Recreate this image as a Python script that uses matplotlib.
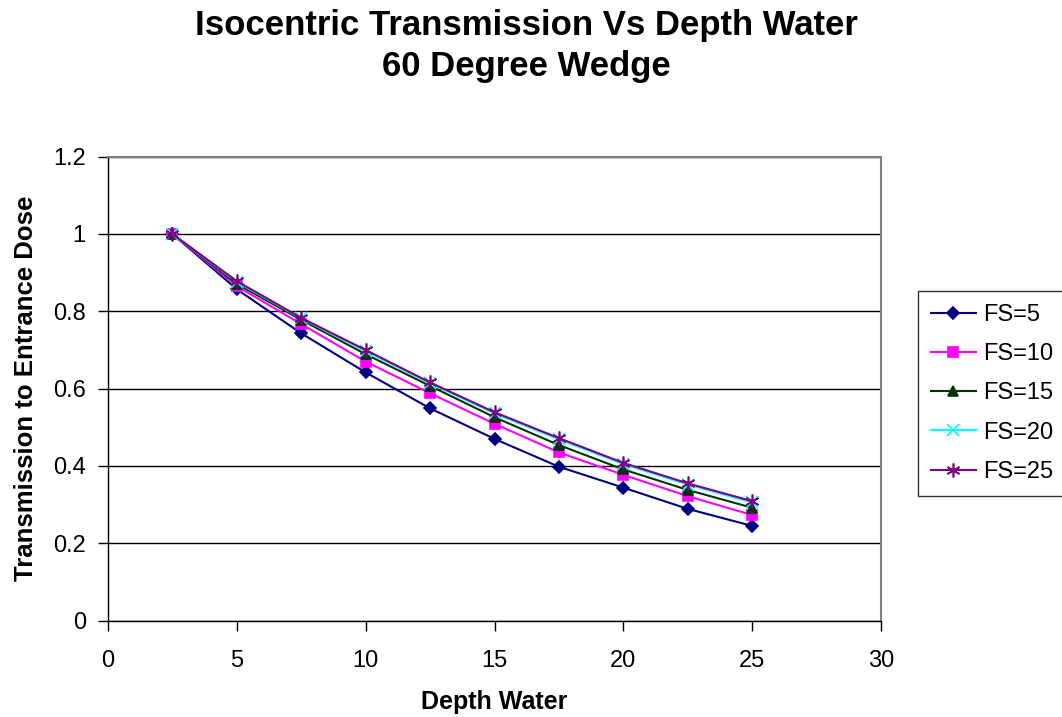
import matplotlib
matplotlib.use("Agg")
import matplotlib.pyplot as plt
from matplotlib.ticker import FuncFormatter

depth = [2.5, 5, 7.5, 10, 12.5, 15, 17.5, 20, 22.5, 25]
fs5 = [1.0, 0.857, 0.743, 0.642, 0.549, 0.470, 0.398, 0.344, 0.289, 0.245]
fs10 = [1.0, 0.865, 0.767, 0.670, 0.588, 0.509, 0.435, 0.377, 0.322, 0.273]
fs15 = [1.0, 0.871, 0.778, 0.689, 0.607, 0.526, 0.454, 0.391, 0.338, 0.292]
fs20 = [1.0, 0.876, 0.782, 0.697, 0.614, 0.536, 0.469, 0.405, 0.352, 0.306]
fs25 = [1.0, 0.878, 0.783, 0.700, 0.616, 0.539, 0.472, 0.408, 0.355, 0.309]
labels = ["FS=5", "FS=10", "FS=15", "FS=20", "FS=25"]

plt.rcParams['font.family'] = ['Liberation Sans', 'DejaVu Sans']

fig = plt.figure(figsize=(10.62, 7.17), dpi=100)
ax = fig.add_axes([0.1017, 0.1344, 0.7279, 0.7815 - 0.1344])

series = [fs5, fs10, fs15, fs20, fs25]
colors = ["#000080", "#FF00FF", "#003300", "#00FFFF", "#800080"]
markers = ["D", "s", "^", "x", (6, 2, 0)]
msizes = [6.5, 7, 7.5, 8, 10]
for ys, c, m, ms, lab in zip(series, colors, markers, msizes, labels):
    ax.plot(depth, ys, color=c, marker=m, markersize=ms, linewidth=1.5,
            markeredgecolor=c, markerfacecolor=c, markeredgewidth=1.2, label=lab, zorder=3)

ax.set_xlim(0, 30)
ax.set_ylim(0, 1.2)
ax.set_xticks([0, 5, 10, 15, 20, 25, 30])
ax.set_yticks([0, 0.2, 0.4, 0.6, 0.8, 1.0, 1.2])
ax.yaxis.set_major_formatter(FuncFormatter(lambda v, p: f"{v:g}"))
ax.grid(axis='y', color='black', linewidth=1.0, zorder=1)
ax.set_axisbelow(True)
ax.tick_params(axis='both', direction='out', length=7, width=1, colors='black', labelsize=17)
ax.tick_params(axis='x', pad=14)
ax.tick_params(axis='y', pad=9)
for s in ['left', 'bottom']:
    ax.spines[s].set_color('black')
    ax.spines[s].set_linewidth(1.0)
for s in ['top', 'right']:
    ax.spines[s].set_color('#808080')
    ax.spines[s].set_linewidth(1.5)

ax.set_xlabel("Depth Water", fontsize=18, fontweight='bold', labelpad=13)
ax.set_ylabel("Transmission to Entrance Dose", fontsize=18.5, fontweight='bold', labelpad=11)

fig.text(0.4953, 0.988, "Isocentric Transmission Vs Depth Water\n60 Degree Wedge",
         ha='center', va='top', fontsize=25, fontweight='bold', linespacing=1.32)

leg = fig.legend(loc='upper left', bbox_to_anchor=(918 / 1062, 1 - 291 / 717),
                 fontsize=17, frameon=True, fancybox=False, edgecolor='black',
                 handlelength=1.9, handletextpad=0.3, labelspacing=0.73,
                 borderpad=0.55, borderaxespad=0)
leg.get_frame().set_linewidth(1.0)

fig.savefig("out.png", dpi=100)
